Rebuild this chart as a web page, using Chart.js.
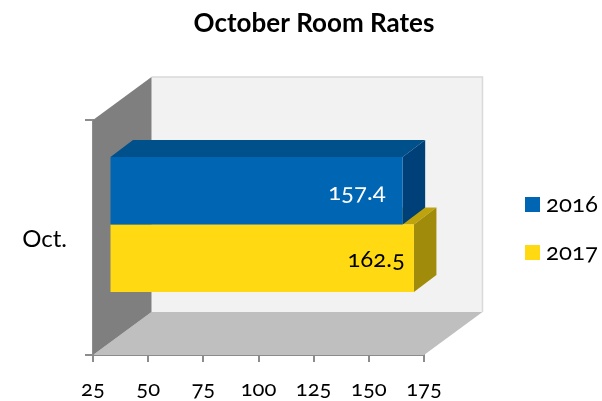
<!DOCTYPE html>
<html lang="en">
<head>
    <meta charset="UTF-8">
    <title>October Room Rates</title>
    <script src="https://cdn.jsdelivr.net/npm/chart.js@4"></script>
    <style>
        body { margin: 0; background: #fff; }
        /* old style numerals, canvas text picks this up */
        canvas { display: block; font-feature-settings: "onum"; font-variant-numeric: oldstyle-nums; }
    </style>
</head>
<body>
    <canvas id="myChart" width="602" height="401"></canvas>
    <script>
        const categories = ['Oct.'];
        const seriesNames = ['2016', '2017'];
        const values2016 = [157.4];
        const values2017 = [162.5];
        const xMin = 25;
        const xMax = 175;
        const xStep = 25;

        const fontName = 'Lato';
        // [front, top, side]
        const blue = ['#0066b3', '#00508c', '#004078'];
        const yellow = ['#ffd911', '#bfa30d', '#a18b0a'];

        function poly(ctx, pts, color) {
            ctx.fillStyle = color;
            ctx.beginPath();
            pts.forEach(function (p, i) { i ? ctx.lineTo(p[0], p[1]) : ctx.moveTo(p[0], p[1]); });
            ctx.closePath();
            ctx.fill();
        }

        // 3d box: walls, floor, bar sides. The bars sit 17.5,-13 in from the front plane
        const shiftX = 17.5, shiftY = -13;
        const barDX = 22.5, barDY = -17;
        const wallDX = 58.5, wallDY = -43;

        const box3d = {
            id: 'box3d',
            afterLayout(chart) {
                // title is centred over a bit more than the canvas middle
                chart.titleBlock.left = 26;
                chart.titleBlock.right = 602;
            },
            beforeDatasetsDraw(chart) {
                const ctx = chart.ctx;
                const a = chart.chartArea;
                const dx = wallDX, dy = wallDY;

                poly(ctx, [[a.left + dx, a.top + dy], [a.right + dx, a.top + dy], [a.right + dx, a.bottom + dy], [a.left + dx, a.bottom + dy]], '#f2f2f2');
                ctx.strokeStyle = '#d9d9d9';
                ctx.lineWidth = 1.5;
                ctx.beginPath();
                ctx.moveTo(a.left + dx, a.top + dy);
                ctx.lineTo(a.right + dx, a.top + dy);
                ctx.lineTo(a.right + dx, a.bottom + dy);
                ctx.stroke();
                poly(ctx, [[a.left, a.bottom], [a.right, a.bottom], [a.right + dx, a.bottom + dy], [a.left + dx, a.bottom + dy]], '#bfbfbf');
                poly(ctx, [[a.left, a.top], [a.left + dx, a.top + dy], [a.left + dx, a.bottom + dy], [a.left, a.bottom]], '#7f7f7f');

                ctx.save();
                ctx.translate(shiftX, shiftY);
                // later year first so 2016 stays on top
                for (let d = 1; d >= 0; d--) {
                    const bar = chart.getDatasetMeta(d).data[0];
                    const col = chart.data.datasets[d].faces;
                    const left = Math.max(bar.base, a.left);
                    const top = bar.y - bar.height / 2;
                    const bottom = bar.y + bar.height / 2;
                    poly(ctx, [[left, top], [bar.x, top], [bar.x + barDX, top + barDY], [left + barDX, top + barDY]], col[1]);
                    poly(ctx, [[bar.x, top], [bar.x + barDX, top + barDY], [bar.x + barDX, bottom + barDY], [bar.x, bottom]], col[2]);
                }
                // fronts come from the library, just moved onto the same plane
            },
            afterDatasetsDraw(chart) {
                const ctx = chart.ctx;
                ctx.restore();

                // value labels
                const insets = [17, 9];
                const labelColors = ['#ffffff', '#000000'];
                ctx.save();
                ctx.font = '24px ' + fontName;
                ctx.textAlign = 'right';
                ctx.textBaseline = 'middle';
                chart.data.datasets.forEach(function (ds, d) {
                    const bar = chart.getDatasetMeta(d).data[0];
                    ctx.fillStyle = labelColors[d];
                    ctx.fillText(ds.data[0], bar.x + shiftX - insets[d], bar.y + shiftY + 1);
                });
                ctx.restore();

                // legend
                const legendY = [204.5, 252.5];
                ctx.save();
                ctx.font = '24px ' + fontName;
                ctx.textAlign = 'left';
                ctx.textBaseline = 'middle';
                chart.data.datasets.forEach(function (ds, d) {
                    ctx.fillStyle = ds.backgroundColor;
                    ctx.fillRect(525, legendY[d] - 7.5, 15, 15);
                    ctx.fillStyle = '#000';
                    ctx.fillText(ds.label, 546, legendY[d]);
                });
                ctx.restore();
            }
        };

        const ctx = document.getElementById('myChart').getContext('2d');
        const myChart = new Chart(ctx, {
            type: 'bar',
            data: {
                labels: categories,
                datasets: [
                    { label: seriesNames[0], data: values2016, backgroundColor: blue[0], faces: blue },
                    { label: seriesNames[1], data: values2017, backgroundColor: yellow[0], faces: yellow }
                ]
            },
            options: {
                indexAxis: 'y',
                responsive: false,
                animation: false,
                categoryPercentage: 0.574,
                barPercentage: 1,
                layout: { padding: { right: 178 } },
                plugins: {
                    legend: { display: false },
                    tooltip: { enabled: false },
                    title: {
                        display: true,
                        text: 'October Room Rates',
                        color: '#000',
                        font: { family: fontName, size: 26, weight: 'bold', lineHeight: 1.2 },
                        padding: { top: 8, bottom: 80.8 }
                    }
                },
                scales: {
                    x: {
                        min: xMin,
                        max: xMax,
                        ticks: { stepSize: xStep, color: '#000', padding: 14, maxRotation: 0, font: { family: fontName, size: 22 } },
                        grid: { drawOnChartArea: false, color: '#8c8c8c', tickLength: 7, lineWidth: 2 },
                        border: { color: '#8c8c8c', width: 2 },
                        afterFit(scale) { scale.height = 46; }
                    },
                    y: {
                        ticks: { color: '#000', padding: 18, labelOffset: 2, font: { family: fontName, size: 24 } },
                        grid: { drawOnChartArea: false, color: '#8c8c8c', tickLength: 8, lineWidth: 2 },
                        border: { color: '#8c8c8c', width: 2 },
                        afterFit(scale) { scale.width = 93; }
                    }
                }
            },
            plugins: [box3d]
        });
    </script>
</body>
</html>
